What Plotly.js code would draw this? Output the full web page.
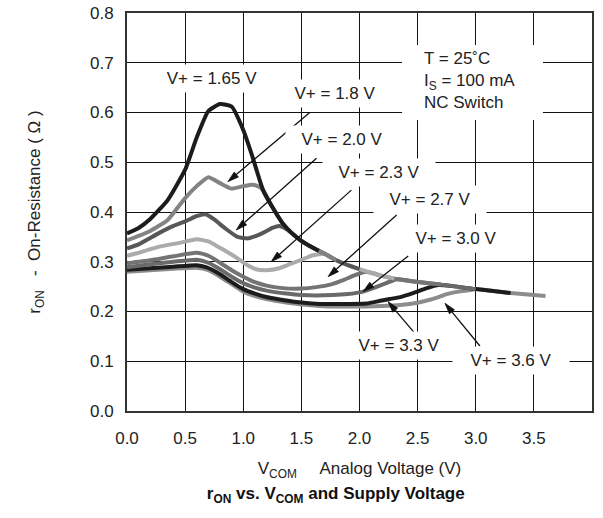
<!DOCTYPE html>
<html>
<head>
<meta charset="utf-8">
<script src="https://cdn.plot.ly/plotly-3.0.1.min.js"></script>
<style>html,body{margin:0;padding:0;background:#fff;}#chart{width:603px;height:518px;}</style>
</head>
<body>
<div id="chart"></div>
<script>
// ---- Data (V_COM in V, r_ON in ohm) ----
const seriesNames = ['V+ = 1.65 V','V+ = 1.8 V','V+ = 2.0 V','V+ = 2.3 V','V+ = 2.7 V','V+ = 3.0 V','V+ = 3.3 V','V+ = 3.6 V'];

const x165 = [0, 0.1, 0.2, 0.35, 0.5, 0.6, 0.7, 0.8, 0.9, 1.0, 1.07, 1.17, 1.25, 1.34, 1.42, 1.5, 1.6, 1.65];
const y165 = [0.357, 0.368, 0.386, 0.424, 0.485, 0.55, 0.603, 0.617, 0.612, 0.565, 0.518, 0.444, 0.41, 0.377, 0.357, 0.342, 0.328, 0.322];

const x18 = [0, 0.1, 0.2, 0.35, 0.5, 0.6, 0.7, 0.8, 0.9, 1.0, 1.08, 1.14, 1.17, 1.25, 1.34, 1.42, 1.5, 1.6, 1.7, 1.8];
const y18 = [0.343, 0.352, 0.362, 0.384, 0.428, 0.452, 0.470, 0.458, 0.447, 0.452, 0.455, 0.450, 0.444, 0.41, 0.377, 0.357, 0.342, 0.328, 0.316, 0.303];

const x20 = [0, 0.1, 0.27, 0.4, 0.5, 0.6, 0.68, 0.75, 0.84, 0.95, 1.04, 1.1, 1.17, 1.25, 1.31, 1.37, 1.42, 1.5, 1.6, 1.7, 1.8, 1.9, 2.0];
const y20 = [0.327, 0.335, 0.357, 0.372, 0.381, 0.392, 0.395, 0.385, 0.368, 0.350, 0.347, 0.351, 0.358, 0.368, 0.372, 0.366, 0.357, 0.342, 0.328, 0.316, 0.303, 0.293, 0.285];

const x23 = [0, 0.1, 0.27, 0.45, 0.6, 0.7, 0.8, 0.93, 1.03, 1.11, 1.2, 1.31, 1.4, 1.5, 1.6, 1.7, 1.8, 1.9, 2.0, 2.1, 2.2, 2.3];
const y23 = [0.312, 0.318, 0.330, 0.338, 0.345, 0.341, 0.328, 0.310, 0.294, 0.285, 0.283, 0.287, 0.295, 0.304, 0.313, 0.316, 0.303, 0.293, 0.285, 0.278, 0.271, 0.266];

const x27 = [0, 0.2, 0.4, 0.6, 0.7, 0.8, 0.9, 1.0, 1.1, 1.2, 1.34, 1.5, 1.63, 1.75, 1.86, 1.95, 2.05, 2.1, 2.2, 2.3, 2.45, 2.6, 2.7];
const y27 = [0.297, 0.303, 0.311, 0.318, 0.312, 0.298, 0.283, 0.270, 0.259, 0.252, 0.247, 0.246, 0.249, 0.254, 0.263, 0.272, 0.280, 0.278, 0.271, 0.266, 0.261, 0.257, 0.255];

const x30 = [0, 0.2, 0.4, 0.6, 0.7, 0.8, 0.9, 1.0, 1.1, 1.2, 1.37, 1.5, 1.77, 1.9, 2.03, 2.13, 2.23, 2.32, 2.45, 2.6, 2.8, 3.0];
const y30 = [0.289, 0.295, 0.300, 0.304, 0.298, 0.285, 0.270, 0.257, 0.248, 0.242, 0.236, 0.233, 0.233, 0.235, 0.240, 0.248, 0.257, 0.265, 0.261, 0.257, 0.251, 0.245];

const x33 = [0, 0.2, 0.4, 0.6, 0.68, 0.8, 0.9, 1.0, 1.1, 1.2, 1.37, 1.5, 1.66, 1.8, 2.06, 2.17, 2.26, 2.35, 2.46, 2.58, 2.68, 2.8, 3.0, 3.15, 3.3];
const y33 = [0.284, 0.287, 0.290, 0.293, 0.289, 0.275, 0.259, 0.245, 0.236, 0.229, 0.222, 0.218, 0.215, 0.215, 0.216, 0.221, 0.225, 0.229, 0.237, 0.247, 0.253, 0.251, 0.245, 0.241, 0.237];

const x36 = [0, 0.2, 0.4, 0.6, 0.7, 0.8, 0.9, 1.0, 1.1, 1.2, 1.37, 1.5, 1.66, 1.8, 2.06, 2.2, 2.35, 2.46, 2.58, 2.68, 2.75, 2.85, 2.95, 3.0, 3.15, 3.3, 3.45, 3.6];
const y36 = [0.280, 0.283, 0.286, 0.288, 0.283, 0.270, 0.255, 0.240, 0.231, 0.225, 0.218, 0.214, 0.211, 0.210, 0.210, 0.211, 0.213, 0.216, 0.222, 0.229, 0.235, 0.240, 0.243, 0.245, 0.241, 0.237, 0.234, 0.231];

const xTicks = [0, 0.5, 1.0, 1.5, 2.0, 2.5, 3.0, 3.5, 4.0];
const yTicks = [0, 0.1, 0.2, 0.3, 0.4, 0.5, 0.6, 0.7, 0.8];

// ---- Build traces ----
const FONT = 'Liberation Sans, Arial, Helvetica, sans-serif';
const xs = [x165, x18, x20, x23, x27, x30, x33, x36];
const ys = [y165, y18, y20, y23, y27, y30, y33, y36];
const colors = ['#1c1c1c', '#838383', '#575757', '#ababab', '#747474', '#6a6a6a', '#1c1c1c', '#8c8c8c'];

const traces = [];
for (let i = xs.length - 1; i >= 0; i--) {
  traces.push({
    type: 'scatter', mode: 'lines', name: seriesNames[i],
    x: xs[i], y: ys[i],
    line: {color: colors[i], width: 4, shape: 'spline', smoothing: 0.5},
    hoverinfo: 'skip', showlegend: false
  });
}

// ---- plot geometry (for arrow heads drawn as shapes) ----
const W = 603, H = 518, M = {l: 127, r: 11, t: 13, b: 107};
const XR = [0, 4], YR = [0, 0.8];
const pxX = (W - M.l - M.r) / (XR[1] - XR[0]);
const pxY = (H - M.t - M.b) / (YR[1] - YR[0]);

// label annotations (white boxes cut the grid)
function label(text, x, y, w) {
  return {x: x, y: y, xref: 'x', yref: 'y', text: text, showarrow: false,
    font: {family: FONT, size: 17, color: '#222'}, bgcolor: '#ffffff',
    borderpad: 4, width: w, align: 'center'};
}
// arrow: line from tail to head + filled triangular head
function arrowShapes(hx, hy, tx, ty) {
  const dxp = (hx - tx) * pxX, dyp = (hy - ty) * pxY;
  const len = Math.hypot(dxp, dyp);
  const ux = dxp / len, uy = dyp / len;
  const L = 11, Wd = 3.2;
  const bx = hx - ux * L / pxX, by = hy - uy * L / pxY;
  const p1x = bx + (-uy) * Wd / pxX, p1y = by + (ux) * Wd / pxY;
  const p2x = bx - (-uy) * Wd / pxX, p2y = by - (ux) * Wd / pxY;
  return [
    {type: 'line', xref: 'x', yref: 'y', x0: tx, y0: ty, x1: bx, y1: by,
     line: {color: '#111', width: 1.3}, layer: 'above'},
    {type: 'path', xref: 'x', yref: 'y',
     path: 'M ' + hx + ',' + hy + ' L ' + p1x + ',' + p1y + ' L ' + p2x + ',' + p2y + ' Z',
     fillcolor: '#111', line: {color: '#111', width: 0.8}, layer: 'above'}
  ];
}

const annotations = [
  label(seriesNames[0], 0.73, 0.669, 112),
  label(seriesNames[1], 1.79, 0.639, 104),
  label(seriesNames[2], 1.85, 0.545, 104),
  label(seriesNames[3], 2.17, 0.479, 104),
  label(seriesNames[4], 2.61, 0.4255, 104),
  label(seriesNames[5], 2.83, 0.347, 104),
  label(seriesNames[6], 2.34, 0.131, 104),
  label(seriesNames[7], 3.30, 0.1025, 108),
  {x: 2.535, y: 0.664, xref: 'x', yref: 'y', xanchor: 'left', yanchor: 'middle', align: 'left',
   text: 'T = 25˚C<br>I<sub>S</sub> = 100 mA<br>NC Switch', showarrow: false,
   font: {family: FONT, size: 17, color: '#222'}}
];

const shapes = [
  {type: 'rect', xref: 'x', yref: 'y', x0: 2.366, x1: 3.578, y0: 0.585, y1: 0.7357,
   fillcolor: '#ffffff', line: {width: 0}, layer: 'above'}
].concat(
  arrowShapes(0.868, 0.461, 1.572, 0.600),
  arrowShapes(0.94, 0.364, 1.63, 0.508),
  arrowShapes(1.24, 0.300, 1.93, 0.444),
  arrowShapes(1.73, 0.270, 2.319, 0.394),
  arrowShapes(2.031, 0.240, 2.419, 0.3116),
  arrowShapes(2.246, 0.2197, 2.476, 0.156),
  arrowShapes(2.735, 0.2165, 3.036, 0.1307)
);

const layout = {
  width: W, height: H,
  margin: M,
  paper_bgcolor: '#ffffff', plot_bgcolor: '#ffffff',
  font: {family: FONT, size: 17, color: '#222'},
  showlegend: false,
  title: {
    text: '<b>r<sub>ON</sub> vs. V<sub>COM</sub> and Supply Voltage</b>',
    font: {family: FONT, size: 17, color: '#111'},
    xref: 'paper', x: 0.449, xanchor: 'center',
    yref: 'container', y: 0.048, yanchor: 'middle'
  },
  xaxis: {
    range: XR, tickvals: xTicks, tickformat: '.1f',
    showgrid: true, gridcolor: '#111', gridwidth: 1,
    showline: true, linecolor: '#333', linewidth: 2, mirror: true,
    zeroline: false, ticks: '', ticklabelstandoff: 11,
    tickfont: {family: FONT, size: 17, color: '#222'},
    title: {text: 'V<sub>COM</sub>\u00a0\u00a0\u00a0\u00a0 Analog Voltage (V)', font: {family: FONT, size: 17, color: '#222'}, standoff: 15},
    fixedrange: true
  },
  yaxis: {
    range: YR, tickvals: yTicks, tickformat: '.1f',
    showgrid: true, gridcolor: '#111', gridwidth: 1,
    showline: true, linecolor: '#333', linewidth: 2, mirror: true,
    zeroline: false, ticks: '', ticklabelstandoff: 8,
    tickfont: {family: FONT, size: 17, color: '#222'},
    title: {text: 'r<sub>ON</sub>\u00a0\u00a0 -\u00a0 On-Resistance (\u00a0Ω\u00a0)', font: {family: FONT, size: 17, color: '#222'}, standoff: 45},
    fixedrange: true
  },
  shapes: shapes,
  annotations: annotations
};

Plotly.newPlot('chart', traces, layout, {staticPlot: true, displayModeBar: false});
</script>
</body>
</html>
